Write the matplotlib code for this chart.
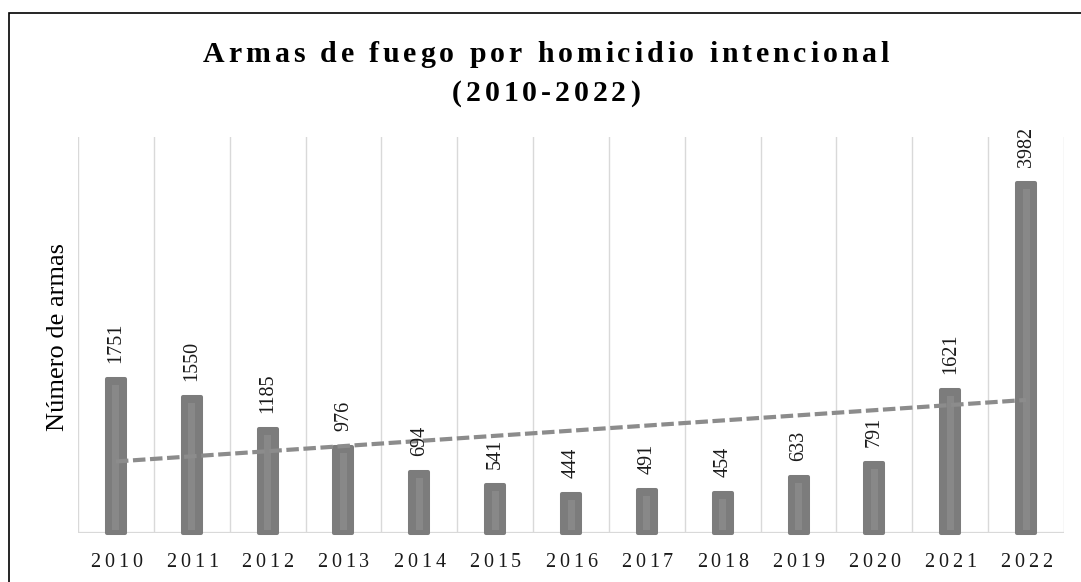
import numpy as np
import matplotlib
matplotlib.use("Agg")
import matplotlib.pyplot as plt
from matplotlib.font_manager import FontProperties, findfont
from matplotlib.ft2font import FT2Font
from matplotlib.patches import Rectangle

# ---- data ----
years = ["2010", "2011", "2012", "2013", "2014", "2015", "2016",
         "2017", "2018", "2019", "2020", "2021", "2022"]
armas = [1751, 1550, 1185, 976, 694, 541, 444, 491, 454, 633, 791, 1621, 3982]
title_lines = ["Armas de fuego por homicidio intencional", "(2010-2022)"]
ylabel = "Número de armas"

W, H, DPI = 1081, 582, 100
fig = plt.figure(figsize=(W / DPI, H / DPI), dpi=DPI)
fig.patch.set_facecolor("white")

# plot area (pixels from top-left)
L, R, T, B = 78, 1064, 137, 533
ax = fig.add_axes([L / W, 1 - B / H, (R - L) / W, (B - T) / H])
ax.set_xlim(-0.5, len(years) - 0.5)
ax.set_ylim(0, 4500)
for s in ax.spines.values():
    s.set_visible(False)
ax.set_yticks([])
ax.set_xticks([])

x = np.arange(len(years))
vals = np.array(armas, dtype=float)

# vertical gridlines at category boundaries
for b in np.arange(-0.5, len(years) + 0.5, 1.0):
    ax.axvline(b, color="#d9d9d9", lw=1.0, zorder=0)
ax.axhline(0, color="#d9d9d9", lw=1.6, zorder=1)

# px -> data conversion
px_y = 4500 / (B - T)
px_x = (len(years)) / (R - L)

bar_col = "#7c7c7c"
ax.bar(x, vals, width=18 * px_x, color=bar_col, edgecolor=bar_col,
       linewidth=2.9, joinstyle="round", zorder=2, clip_on=False)
# lighter inner stripe
ax.bar(x, vals - 9 * px_y, bottom=3 * px_y, width=7 * px_x, color="#888888",
       linewidth=0, zorder=3)

# linear trend line
coef = np.polyfit(x, vals, 1)
trend = np.polyval(coef, x)
ax.plot(x, trend, color="#8c8c8c", lw=3.0, dashes=(3.0, 1.1),
        dash_capstyle="butt", zorder=4)

# data labels
for xi, v in zip(x, armas):
    ax.annotate(str(v), (xi, v), xytext=(0, 11.5), textcoords="offset points",
                rotation=90, ha="center", va="bottom", fontsize=14.5,
                family="Liberation Serif", color="#1a1a1a", zorder=5)


def advances(s, prop):
    f = FT2Font(findfont(prop), hinting_factor=1)
    f.set_size(prop.get_size_in_points(), DPI)
    return [f.load_char(ord(c)).linearHoriAdvance / 65536.0 for c in s]


def spaced_text(s, cx, base_y, prop, track, color):
    """cx, base_y in figure pixels measured from bottom-left."""
    adv = advances(s, prop)
    total = sum(adv) + track * (len(s) - 1)
    xx = cx - total / 2.0
    for c, a in zip(s, adv):
        if c != " ":
            fig.text(xx / W, base_y / H, c, fontproperties=prop, ha="left",
                     va="baseline", color=color)
        xx += a + track


# title (letter-spaced, bold serif)
tprop = FontProperties(family="Liberation Serif", weight="bold", size=21.5)
spaced_text(title_lines[0], 546, H - 62, tprop, 3.8, "black")
spaced_text(title_lines[1], 546, H - 101, tprop, 3.8, "black")

# x tick labels (letter-spaced)
kprop = FontProperties(family="Liberation Serif", size=14.5)
for xi, lab in zip(x, years):
    px, _ = ax.transData.transform((xi, 0))
    spaced_text(lab, px, H - 567, kprop, 4.0, "#1a1a1a")

# y axis label
fig.text(58 / W, 1 - 337 / H, ylabel, rotation=90, ha="center", va="center",
         fontsize=19, family="Liberation Serif", color="black")

# outer border (left and top visible)
fig.patches.append(Rectangle((9 / W, -0.05), 1.1, 1 - 13 / H + 0.05,
                             transform=fig.transFigure, fill=False,
                             edgecolor="black", lw=1.2, zorder=10))

fig.savefig("out.png", dpi=DPI)
